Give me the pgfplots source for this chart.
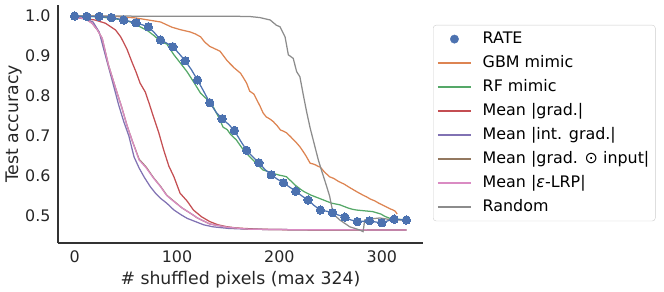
\documentclass[border=0pt]{standalone}
\usepackage{pgfplots}
\pgfplotsset{compat=1.18}
\usepackage{fontspec}
\setmainfont{DejaVu Sans}
\definecolor{sbblue}{HTML}{4C72B0}
\definecolor{sborange}{HTML}{DD8452}
\definecolor{sbgreen}{HTML}{55A868}
\definecolor{sbred}{HTML}{C44E52}
\definecolor{sbpurple}{HTML}{8172B3}
\definecolor{sbbrown}{HTML}{937860}
\definecolor{sbpink}{HTML}{DA8BC3}
\definecolor{sbgray}{HTML}{8C8C8C}
\definecolor{txt}{HTML}{262626}
\pgfplotsset{
  dotlegend/.style={legend image code/.code={\fill[sbblue] plot[mark=*, mark size=4.2bp, only marks] coordinates {(16.5bp,0bp)};}},
  leg/.style={draw=#1, line width=1.25bp, legend image code/.code={\pgfsetlinewidth{1.5bp}\pgfsetstrokecolor{#1}\pgfsetstrokeopacity{1}\pgfpathmoveto{\pgfpoint{0bp}{0bp}}\pgfpathlineto{\pgfpoint{33bp}{0bp}}\pgfusepath{stroke}}}
}
\begin{document}
\begin{tikzpicture}
\useasboundingbox (-58bp,-49bp) rectangle (606bp,243bp);
\begin{axis}[
  at={(0,0)}, anchor=south west,
  scale only axis, width=365bp, height=238bp,
  xmin=-16.2, xmax=340.2, ymin=0.4325, ymax=1.0275,
  axis x line*=bottom, axis y line*=left,
  axis line style={black!80, line width=1.2bp},
  xtick={0,100,200,300}, ytick={0.5,0.6,0.7,0.8,0.9,1.0},
  major tick length=0pt,
  /pgf/number format/assume math mode=true,
  tick label style={font=\fontsize{15.9bp}{19bp}\selectfont, text=txt},
  yticklabel style={xshift=-4bp, /pgf/number format/fixed, /pgf/number format/fixed zerofill, /pgf/number format/precision=1},
  xticklabel style={yshift=-4.5bp},
  xlabel={\# shuffled pixels (max 324)},
  ylabel={Test accuracy},
  label style={font=\fontsize{17.3bp}{20bp}\selectfont, text=txt},
  xlabel style={at={(axis description cs:0.5,-0.155)}, anchor=center},
  ylabel style={at={(axis description cs:-0.1205,0.5)}, anchor=center},
  legend style={at={(axis description cs:1.0274,0.916)}, anchor=north west,
    draw=black!20, rounded corners=3bp, fill=white,
    inner xsep=4bp, inner ysep=4bp,
    font=\fontsize{15.9bp}{19bp}\selectfont,
    row sep=4.2bp, column sep=9bp,
    nodes={inner sep=2bp, text height=12bp, text depth=3.8bp},
    cells={anchor=west}},
]
\addlegendimage{dotlegend}
\addlegendentry{RATE}

% GBM mimic
\addplot[leg=sborange] coordinates {
(0,1.0) (20,1.0) (40,0.999) (60,0.995) (72,0.99) (84,0.985) (95,0.972) (103,0.966)
(108,0.963) (113,0.96) (118,0.955) (123,0.948) (127,0.935) (132,0.924) (137,0.918) (142,0.912)
(149,0.888) (156,0.870) (162,0.857) (165,0.845)
(168,0.832) (171,0.812) (175,0.805) (178,0.790) (181,0.775) (184,0.758) (187,0.748) (191,0.742) (194,0.736)
(198,0.725) (201,0.715) (204,0.712) (207,0.708) (211,0.698)
(214,0.690) (217,0.682) (220,0.673) (223,0.662) (226,0.650) (230,0.632) (233,0.630) (235,0.628) (238,0.624) (240,0.622)
(244,0.610) (249,0.598) (253,0.594)
(258,0.586) (263,0.580) (268,0.572) (272,0.566) (276,0.560) (281,0.553) (285,0.548) (289,0.542) (293,0.538)
(297,0.532) (301,0.527) (305,0.522) (308,0.518) (311,0.515)
(313,0.512) (315,0.505)};
\addlegendentry{GBM mimic}

% RF mimic
\addplot[leg=sbgreen] coordinates {
(0,1.0) (24,0.998) (48,0.99) (56,0.984) (64,0.973) (72,0.962) (78,0.950) (84,0.936) (90,0.930) (97,0.903)
(104,0.880) (110,0.860) (117,0.832) (123,0.807) (130,0.790) (136,0.770) (141,0.745) (145,0.722)
(149,0.716) (152,0.705) (158,0.690) (164,0.668) (171,0.648) (178,0.630) (184,0.615) (188,0.612) (192,0.608)
(196,0.605) (200,0.602) (204,0.600) (207,0.598) (211,0.588) (215,0.578) (218,0.572) (221,0.566) (224,0.561) (227,0.557)
(231,0.552) (235,0.548) (239,0.544) (243,0.540) (247,0.536)
(251,0.532) (255,0.530) (259,0.528) (263,0.524) (267,0.520) (271,0.517) (275,0.515) (279,0.514) (283,0.513)
(287,0.512) (291,0.511) (295,0.508) (299,0.505) (303,0.499)
(308,0.494) (311,0.493) (315,0.492) (320,0.491) (324,0.490)};
\addlegendentry{RF mimic}

% Mean |grad.|
\addplot[leg=sbred] coordinates {
(0,0.998) (8,0.994) (20,0.99) (30,0.982) (40,0.965) (45,0.948) (51,0.918) (56,0.885)
(60,0.86) (64,0.832) (69,0.81) (73,0.78) (77,0.748) (82,0.71) (87,0.665) (92,0.625)
(97,0.598) (103,0.557) (110,0.537) (116,0.515) (124,0.498) (132,0.486) (140,0.478)
(149,0.473) (158,0.470) (165,0.469) (180,0.467) (200,0.466) (240,0.465) (324,0.465)};
\addlegendentry{Mean |grad.|}

% Mean |int. grad.|
\addplot[leg=sbpurple] coordinates {
(0,0.996) (10,0.993) (18,0.985) (24,0.96) (30,0.902) (37,0.836) (43,0.778) (48,0.736)
(53,0.70) (58,0.648) (63,0.620) (68,0.597) (74,0.573) (79,0.557) (84,0.544) (90,0.532)
(97,0.515) (104,0.503) (110,0.494) (118,0.486) (126,0.478) (135,0.473) (150,0.469)
(170,0.467) (200,0.466) (324,0.465)};
\addlegendentry{Mean |int. grad.|}

% Mean |grad. x input|
\addplot[leg=sbbrown] coordinates {
(0,0.996) (10,0.994) (17,0.982) (22,0.966) (27,0.944) (33,0.878) (40,0.82) (46,0.772)
(51,0.728) (56,0.690) (63,0.642) (70,0.622) (77,0.596) (84,0.574) (90,0.552) (97,0.537)
(105,0.52) (113,0.507) (120,0.495) (132,0.480) (149,0.472) (170,0.467) (200,0.466) (324,0.465)};
\addlegendentry{Mean |grad. ⊙ input|}

% Mean |eps-LRP|
\addplot[leg=sbpink] coordinates {
(0,0.996) (10,0.994) (17,0.982) (22,0.966) (27,0.944) (33,0.878) (40,0.82) (46,0.772)
(51,0.728) (56,0.690) (63,0.640) (70,0.620) (77,0.595) (84,0.573) (90,0.551) (97,0.536)
(105,0.52) (113,0.507) (120,0.495) (132,0.480) (149,0.472) (170,0.467) (200,0.466) (324,0.465)};
\addlegendentry{Mean |\textit{ε}-LRP|}

% Random
\addplot[leg=sbgray] coordinates {
(0,1.0) (170,0.999) (181,0.996) (191,0.99) (197,0.977) (200.6,0.973) (205.5,0.948)
(208.7,0.903) (213.5,0.894) (216.8,0.861) (220,0.848) (223.3,0.803) (226.6,0.76)
(230,0.72) (233,0.69) (238,0.64) (241,0.615) (246,0.575) (249,0.55) (252.5,0.505)
(259,0.49) (268.7,0.473) (278.5,0.465) (281.7,0.461) (283.3,0.49) (290,0.493)
(298,0.495) (311,0.49) (324,0.49)};
\addlegendentry{Random}

% RATE line and markers
\addplot[draw=sbblue, line width=1.25bp, forget plot] coordinates {
(0,1.000) (12,0.999) (24,0.999) (36,0.996) (48,0.990) (60,0.983) (72,0.973) (78,0.958) (84,0.940)
(90,0.932) (96,0.923) (102,0.906) (108,0.888) (114,0.866) (120,0.840) (126,0.812) (132,0.783) (138,0.760) (144,0.743)
(150,0.730) (156,0.714) (162,0.688) (168,0.664) (174,0.648)
(180,0.633) (186,0.616) (192,0.603) (198,0.592) (204,0.583) (210,0.572) (216,0.562) (222,0.550) (228,0.540) (234,0.526) (240,0.515) (246,0.512) (252,0.508)
(258,0.502) (264,0.497) (270,0.490) (276,0.486) (282,0.487) (288,0.488) (294,0.485) (300,0.483) (306,0.488) (312,0.492) (318,0.491) (324,0.490)};
\addplot[only marks, mark=*, mark size=4.2bp, color=sbblue, mark options={draw=sbblue, fill=sbblue, line width=0pt}, forget plot] coordinates {
(0,1.000) (12,0.999) (24,0.999) (36,0.996) (48,0.990) (60,0.983) (72,0.973) (84,0.940)
(96,0.923) (108,0.888) (120,0.840) (132,0.783) (144,0.743) (156,0.714) (168,0.664)
(180,0.633) (192,0.603) (204,0.583) (216,0.562) (228,0.540) (240,0.515) (252,0.508)
(264,0.497) (276,0.486) (288,0.488) (300,0.483) (312,0.492) (324,0.490)};
\end{axis}
\end{tikzpicture}
\end{document}
